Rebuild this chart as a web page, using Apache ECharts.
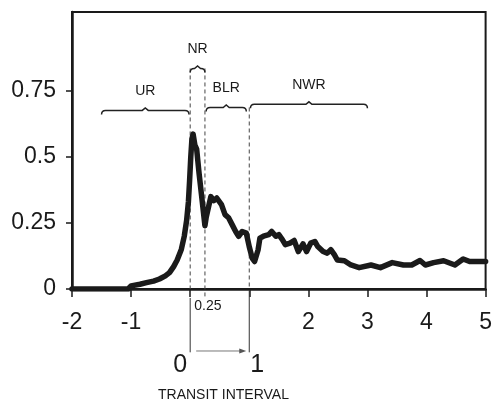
<!DOCTYPE html>
<html>
<head>
<meta charset="utf-8">
<script src="https://cdn.jsdelivr.net/npm/echarts@6/dist/echarts.min.js"></script>
<style>
    html, body { margin: 0; padding: 0; background: #fff; }
    #chart { width: 495px; height: 401px; }
</style>
</head>
<body>
<div id="chart"></div>
<script>
// curve (transit interval, fraction)
const xs = [-2.0, -1.5, -1.05, -1.0, -0.85, -0.74, -0.62, -0.52, -0.42, -0.35, -0.28, -0.22, -0.15, -0.1, -0.06, -0.03, -0.01,
    0.01, 0.03, 0.05, 0.08, 0.11, 0.15, 0.2, 0.23, 0.25, 0.27, 0.31, 0.35, 0.4, 0.45, 0.48, 0.53, 0.59, 0.65, 0.71, 0.77, 0.82, 0.88, 0.95,
    1.0, 1.05, 1.09, 1.15, 1.18, 1.24, 1.33, 1.38, 1.45, 1.5, 1.56, 1.61, 1.69, 1.76, 1.83, 1.91, 1.97,
    2.04, 2.11, 2.16, 2.25, 2.32, 2.38, 2.44, 2.49, 2.61, 2.72, 2.86, 3.06, 3.22, 3.42, 3.61, 3.75, 3.89, 3.98,
    4.12, 4.29, 4.48, 4.62, 4.73, 5.0]
const ys = [0, 0, 0, 0.012, 0.018, 0.024, 0.03, 0.038, 0.05, 0.062, 0.085, 0.11, 0.15, 0.2, 0.26, 0.33, 0.41,
    0.5, 0.57, 0.587, 0.545, 0.53, 0.44, 0.34, 0.28, 0.24, 0.27, 0.31, 0.35, 0.335, 0.345, 0.35, 0.32, 0.282, 0.27, 0.244, 0.218, 0.2, 0.218, 0.212,
    0.16, 0.117, 0.104, 0.149, 0.193, 0.2, 0.206, 0.218, 0.2, 0.206, 0.187, 0.168, 0.174, 0.184, 0.142, 0.171, 0.142,
    0.174, 0.18, 0.161, 0.142, 0.136, 0.149, 0.13, 0.11, 0.107, 0.091, 0.081, 0.091, 0.081, 0.1, 0.091, 0.091, 0.108, 0.091,
    0.1, 0.107, 0.091, 0.114, 0.104, 0.104]

// region braces
const braceNames = ['UR', 'NR', 'BLR', 'NWR']
const braceFrom = [-1.5, 0, 0.27, 1.02]
const braceTo = [-0.02, 0.25, 0.95, 3.0]
const braceLevel = [0.677, 0.836, 0.688, 0.70]

// dashed guides: x, top value, bottom value
const guideX = [0, 0.25, 1]
const guideTop = [0.836, 0.836, 0.688]
const guideBottom = [0, -0.028, 0]

const xLabelValues = [-2, -1, 2, 3, 4, 5]
const xTickValues = [-2, -1, 0, 1, 2, 3, 4, 5]
const yTickValues = [0, 0.25, 0.5, 0.75]

const chart = echarts.init(document.getElementById('chart'))

const ink = '#1a1a1a'

const option = {
    animation: false,
    grid: {
        left: 72, right: 5, top: 12, bottom: 112,
        show: true, borderColor: ink, borderWidth: 2
    },
    xAxis: {
        type: 'value', min: -2, max: 5,
        axisLine: { onZero: false, lineStyle: { color: ink, width: 2.5 } },
        axisTick: { customValues: xTickValues, length: 8, lineStyle: { color: ink, width: 1.5 } },
        axisLabel: {
            customValues: xLabelValues, color: ink, fontSize: 23,
            fontFamily: 'Liberation Sans', margin: 22
        },
        splitLine: { show: false }
    },
    yAxis: {
        type: 'value', min: 0, max: 1.05,
        axisLine: { show: true, onZero: false, lineStyle: { color: ink, width: 2.5 } },
        axisTick: { customValues: yTickValues, length: 6, lineStyle: { color: ink, width: 1.5 } },
        axisLabel: {
            customValues: yTickValues, color: ink, fontSize: 23,
            fontFamily: 'Liberation Sans', margin: 16
        },
        splitLine: { show: false }
    },
    series: [
        {
            // dashed guides
            type: 'custom',
            data: guideX.map((x, i) => [x, guideTop[i], guideBottom[i]]),
            renderItem: (params, api) => {
                const a = api.coord([api.value(0), api.value(1)])
                const b = api.coord([api.value(0), api.value(2)])
                return {
                    type: 'line',
                    shape: { x1: a[0], y1: a[1], x2: b[0], y2: b[1] },
                    style: { stroke: '#444', lineWidth: 1, lineDash: [4, 3] }
                }
            },
            z: 1
        },
        {
            type: 'line',
            data: xs.map((x, i) => [x, ys[i]]),
            showSymbol: false,
            lineStyle: { color: ink, width: 5.5, join: 'round', cap: 'round' },
            z: 3
        },
        {
            // braces with labels
            type: 'custom',
            data: braceNames.map((n, i) => [braceFrom[i], braceTo[i], braceLevel[i], n]),
            renderItem: (params, api) => {
                const p0 = api.coord([api.value(0), api.value(2)])
                const p1 = api.coord([api.value(1), api.value(2)])
                const y = p0[1], x0 = p0[0], x1 = p1[0], xm = (x0 + x1) / 2
                const h = 4
                const path = `M${x0},${y + h} Q${x0},${y} ${x0 + h},${y} L${xm - 3},${y} L${xm},${y - 2.5} L${xm + 3},${y} L${x1 - h},${y} Q${x1},${y} ${x1},${y + h}`
                return {
                    type: 'group',
                    children: [
                        {
                            type: 'path',
                            shape: { pathData: path },
                            style: { fill: null, stroke: '#222', lineWidth: 1.5 }
                        },
                        {
                            type: 'text',
                            x: xm, y: y - 19,
                            style: {
                                text: api.value(3), fill: ink, fontSize: 14,
                                fontFamily: 'Liberation Sans', align: 'center', verticalAlign: 'middle'
                            }
                        }
                    ]
                }
            },
            z: 4
        },
        {
            // transit interval marker below the axis
            type: 'custom',
            data: [[0, 1]],
            renderItem: (params, api) => {
                const s = api.value(0), e = api.value(1)
                const a0 = api.coord([s, -0.034]), a1 = api.coord([s, -0.24])
                const b0 = api.coord([e, -0.034]), b1 = api.coord([e, -0.24])
                const ay = api.coord([s, -0.235])[1]
                const ly = api.coord([s, -0.29])[1]
                const ty = api.coord([0.25, -0.065])
                const ax0 = a0[0] + 6, ax1 = b0[0] - 3
                return {
                    type: 'group',
                    children: [
                        { type: 'line', shape: { x1: a0[0], y1: a0[1], x2: a1[0], y2: a1[1] }, style: { stroke: '#333', lineWidth: 1 } },
                        { type: 'line', shape: { x1: b0[0], y1: b0[1] - 8, x2: b1[0], y2: b1[1] }, style: { stroke: '#333', lineWidth: 1 } },
                        { type: 'line', shape: { x1: ax0, y1: ay, x2: ax1 - 6, y2: ay }, style: { stroke: '#777', lineWidth: 1 } },
                        { type: 'polygon', shape: { points: [[ax1, ay], [ax1 - 7, ay - 2.5], [ax1 - 7, ay + 2.5]] }, style: { fill: '#555' } },
                        {
                            type: 'text', x: a0[0] - 3, y: ly,
                            style: { text: String(s), fill: ink, fontSize: 25, fontFamily: 'Liberation Sans', align: 'right', verticalAlign: 'middle' }
                        },
                        {
                            type: 'text', x: b0[0] + 1, y: ly,
                            style: { text: String(e), fill: ink, fontSize: 25, fontFamily: 'Liberation Sans', align: 'left', verticalAlign: 'middle' }
                        },
                        {
                            type: 'text', x: ty[0] + 3, y: ty[1],
                            style: { text: '0.25', fill: ink, fontSize: 14, fontFamily: 'Liberation Sans', align: 'center', verticalAlign: 'middle' }
                        }
                    ]
                }
            },
            z: 2
        }
    ],
    graphic: [
        {
            type: 'text', left: 158, top: 388,
            style: { text: 'TRANSIT INTERVAL', fill: ink, fontSize: 14, fontFamily: 'Liberation Sans' }
        }
    ]
}

chart.setOption(option)
</script>
</body>
</html>
